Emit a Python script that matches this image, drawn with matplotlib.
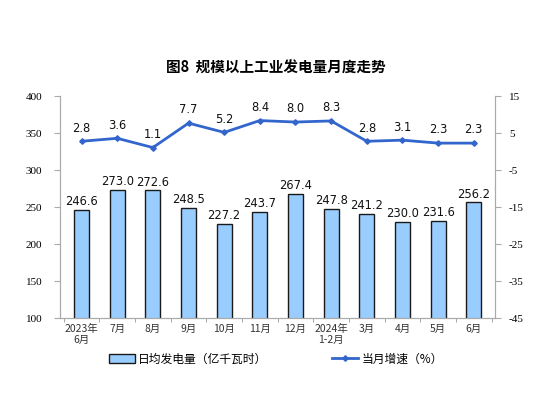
import matplotlib
matplotlib.use("Agg")
import matplotlib.pyplot as plt
import numpy as np

plt.rcParams['font.family'] = ['Noto Sans CJK SC', 'DejaVu Sans']
plt.rcParams['axes.unicode_minus'] = False

months = ['2023年\n6月', '7月', '8月', '9月', '10月', '11月', '12月',
          '2024年\n1-2月', '3月', '4月', '5月', '6月']
daily_gen = [246.6, 273.0, 272.6, 248.5, 227.2, 243.7, 267.4,
             247.8, 241.2, 230.0, 231.6, 256.2]
growth = [2.8, 3.6, 1.1, 7.7, 5.2, 8.4, 8.0, 8.3, 2.8, 3.1, 2.3, 2.3]

fig = plt.figure(figsize=(5.52, 3.99), dpi=100)
ax = fig.add_axes([0.109, 0.203, 0.788, 0.556])
ax2 = ax.twinx()

x = np.arange(len(months))
bars = ax.bar(x, daily_gen, width=0.42, color='#99CCFF', edgecolor='#1a1a1a',
              linewidth=1.0, zorder=2)
for xi, v in zip(x, daily_gen):
    ax.text(xi, v + 2.5, f'{v:.1f}', ha='center', va='bottom', fontsize=8.3,
            family=['DejaVu Sans'], color='#111111')

line, = ax2.plot(x, growth, color='#3366CC', linewidth=2, marker='D',
                 markersize=2.8, zorder=3)
for xi, v in zip(x, growth):
    ax2.text(xi, v + 1.8, f'{v:.1f}', ha='center', va='bottom', fontsize=8.3,
             family=['DejaVu Sans'], color='#111111')

ax.set_xlim(-0.6, len(months) - 0.4)
ax.set_ylim(100, 400)
ax.set_yticks(np.arange(100, 401, 50))
ax2.set_ylim(-45, 15)
ax2.set_yticks(np.arange(-45, 16, 10))

ax.set_xticks(x)
ax.set_xticklabels(months, fontsize=7.5, color='#333333')
ax.set_xticks(np.arange(-0.5, len(months), 1), minor=True)
ax.tick_params(axis='x', which='major', length=0, pad=4)
ax.tick_params(axis='x', which='minor', length=3, color='#999999')

for a in (ax, ax2):
    for s in a.spines.values():
        s.set_color('#AAAAAA')
    a.spines['top'].set_visible(False)
    a.tick_params(axis='y', length=4, color='#AAAAAA', labelsize=8)
    for lab in a.get_yticklabels():
        lab.set_family(['Liberation Serif'])
ax.tick_params(axis='y', pad=9)
ax2.tick_params(axis='y', pad=6)

fig.text(0.5, 0.83, '图8  规模以上工业发电量月度走势', ha='center', va='center',
         fontsize=10.5, fontweight='bold')

fig.legend([bars, line], ['日均发电量（亿千瓦时）', '当月增速（%）'],
           loc='center', bbox_to_anchor=(0.5, 0.1), ncol=2, frameon=False,
           fontsize=8.5, handlelength=2.2, columnspacing=5.5, handletextpad=0.3)

fig.savefig('out.png', dpi=100)
